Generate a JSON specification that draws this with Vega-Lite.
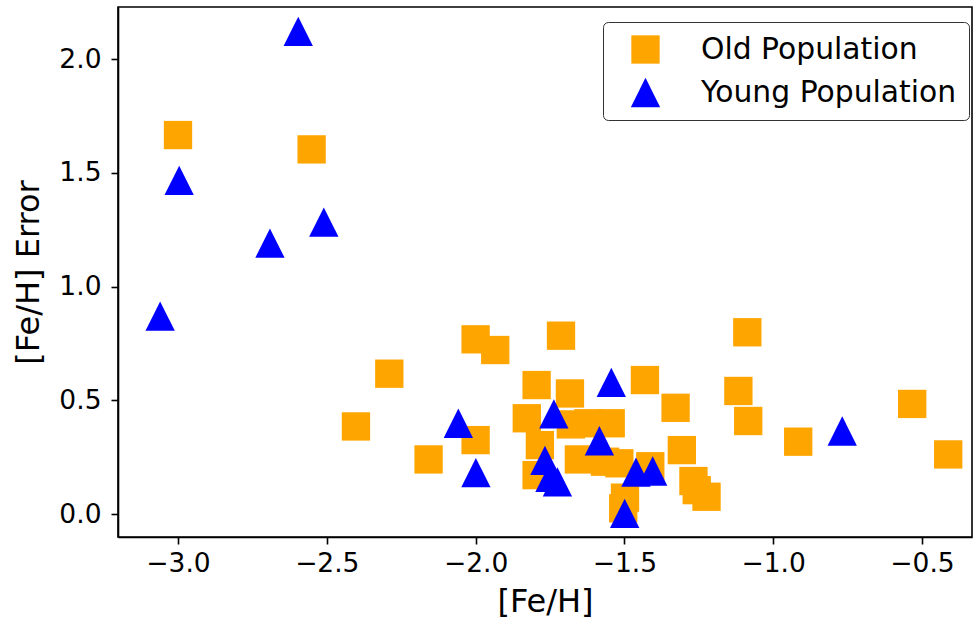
{
  "$schema": "https://vega.github.io/schema/vega-lite/v6.json",
  "width": 854,
  "height": 530,
  "autosize": {"type": "none"},
  "padding": {"left": 118, "top": 7, "right": 2, "bottom": 91},
  "background": "white",
  "config": {
    "font": "DejaVu Sans",
    "view": {"stroke": "black", "strokeWidth": 1.6},
    "axis": {
      "grid": false,
      "domainColor": "black",
      "domainWidth": 1.6,
      "tickColor": "black",
      "tickWidth": 1.6,
      "tickSize": 7,
      "labelFont": "DejaVu Sans",
      "labelFontSize": 26.5,
      "labelColor": "black",
      "titleFont": "DejaVu Sans",
      "titleFontSize": 32,
      "titleFontWeight": "normal",
      "titleColor": "black"
    },
    "legend": {
      "labelFont": "DejaVu Sans",
      "labelFontSize": 29.8,
      "labelColor": "black",
      "labelLimit": 500
    }
  },
  "data": {
    "values": [
      {"feh": -3.000, "err": 1.666, "pop": "Old Population"},
      {"feh": -2.551, "err": 1.603, "pop": "Old Population"},
      {"feh": -2.000, "err": 0.768, "pop": "Old Population"},
      {"feh": -1.934, "err": 0.721, "pop": "Old Population"},
      {"feh": -1.713, "err": 0.784, "pop": "Old Population"},
      {"feh": -2.290, "err": 0.617, "pop": "Old Population"},
      {"feh": -2.402, "err": 0.385, "pop": "Old Population"},
      {"feh": -2.158, "err": 0.240, "pop": "Old Population"},
      {"feh": -2.000, "err": 0.325, "pop": "Old Population"},
      {"feh": -1.795, "err": 0.567, "pop": "Old Population"},
      {"feh": -1.683, "err": 0.530, "pop": "Old Population"},
      {"feh": -1.828, "err": 0.421, "pop": "Old Population"},
      {"feh": -1.680, "err": 0.394, "pop": "Old Population"},
      {"feh": -1.621, "err": 0.399, "pop": "Old Population"},
      {"feh": -1.546, "err": 0.399, "pop": "Old Population"},
      {"feh": -1.784, "err": 0.303, "pop": "Old Population"},
      {"feh": -1.795, "err": 0.171, "pop": "Old Population"},
      {"feh": -1.653, "err": 0.240, "pop": "Old Population"},
      {"feh": -1.565, "err": 0.230, "pop": "Old Population"},
      {"feh": -1.517, "err": 0.223, "pop": "Old Population"},
      {"feh": -1.498, "err": 0.072, "pop": "Old Population"},
      {"feh": -1.504, "err": 0.025, "pop": "Old Population"},
      {"feh": -1.413, "err": 0.210, "pop": "Old Population"},
      {"feh": -1.431, "err": 0.589, "pop": "Old Population"},
      {"feh": -1.328, "err": 0.467, "pop": "Old Population"},
      {"feh": -1.307, "err": 0.281, "pop": "Old Population"},
      {"feh": -1.268, "err": 0.145, "pop": "Old Population"},
      {"feh": -1.257, "err": 0.105, "pop": "Old Population"},
      {"feh": -1.224, "err": 0.076, "pop": "Old Population"},
      {"feh": -1.087, "err": 0.799, "pop": "Old Population"},
      {"feh": -1.117, "err": 0.541, "pop": "Old Population"},
      {"feh": -1.084, "err": 0.409, "pop": "Old Population"},
      {"feh": -0.916, "err": 0.318, "pop": "Old Population"},
      {"feh": -0.533, "err": 0.484, "pop": "Old Population"},
      {"feh": -0.412, "err": 0.262, "pop": "Old Population"},
      {"feh": -2.596, "err": 2.122, "pop": "Young Population"},
      {"feh": -2.996, "err": 1.467, "pop": "Young Population"},
      {"feh": -2.691, "err": 1.191, "pop": "Young Population"},
      {"feh": -2.510, "err": 1.283, "pop": "Young Population"},
      {"feh": -3.060, "err": 0.870, "pop": "Young Population"},
      {"feh": -2.058, "err": 0.399, "pop": "Young Population"},
      {"feh": -1.999, "err": 0.182, "pop": "Young Population"},
      {"feh": -1.737, "err": 0.440, "pop": "Young Population"},
      {"feh": -1.767, "err": 0.236, "pop": "Young Population"},
      {"feh": -1.750, "err": 0.161, "pop": "Young Population"},
      {"feh": -1.725, "err": 0.141, "pop": "Young Population"},
      {"feh": -1.544, "err": 0.579, "pop": "Young Population"},
      {"feh": -1.584, "err": 0.322, "pop": "Young Population"},
      {"feh": -1.461, "err": 0.184, "pop": "Young Population"},
      {"feh": -1.405, "err": 0.189, "pop": "Young Population"},
      {"feh": -1.499, "err": 0.003, "pop": "Young Population"},
      {"feh": -0.768, "err": 0.365, "pop": "Young Population"}
    ]
  },
  "mark": {"type": "point", "filled": true, "opacity": 1, "size": 860, "strokeWidth": 0},
  "encoding": {
    "x": {
      "field": "feh", "type": "quantitative", "title": "[Fe/H]",
      "scale": {"domain": [-3.2016, -0.332], "nice": false, "zero": false},
      "axis": {"values": [-3, -2.5, -2, -1.5, -1, -0.5], "format": ".1f", "labelPadding": 6, "titlePadding": 10}
    },
    "y": {
      "field": "err", "type": "quantitative", "title": "[Fe/H] Error",
      "scale": {"domain": [-0.101, 2.229], "nice": false, "zero": false},
      "axis": {"values": [0, 0.5, 1, 1.5, 2], "format": ".1f", "labelPadding": 10, "titlePadding": 13}
    },
    "color": {
      "field": "pop", "type": "nominal",
      "scale": {"domain": ["Old Population", "Young Population"], "range": ["#FFA500", "#0000FF"]},
      "legend": {
        "title": null,
        "orient": "none",
        "legendX": 485,
        "legendY": 15,
        "padding": 12,
        "symbolOffset": 15,
        "symbolSize": 860,
        "labelOffset": 40,
        "labelLimit": 500,
        "rowPadding": 12,
        "strokeColor": "#333333",
        "cornerRadius": 5,
        "fillColor": "white",
        "encode": {
          "legend": {"update": {"strokeWidth": {"value": 1.5}}},
          "symbols": {"update": {"strokeWidth": {"value": 0}}}
        }
      }
    },
    "shape": {
      "field": "pop", "type": "nominal",
      "scale": {"domain": ["Old Population", "Young Population"], "range": ["M-0.966,-0.966H0.966V0.966H-0.966Z", "M0,-1L-1,1L1,1Z"]},
      "legend": null
    }
  }
}
